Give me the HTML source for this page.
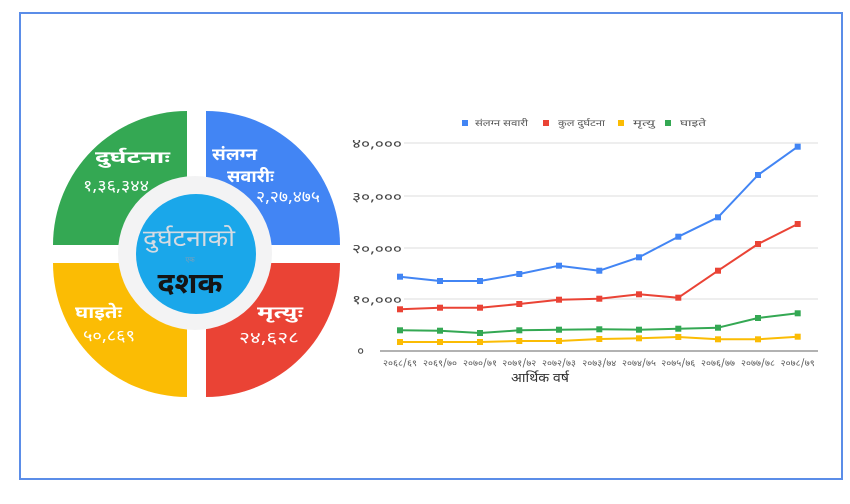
<!DOCTYPE html>
<html>
<head>
<meta charset="utf-8">
<style>
html,body{margin:0;padding:0;background:#fff;}
body{width:850px;height:504px;overflow:hidden;}
svg{display:block;}
text{font-family:"Noto Sans Devanagari","Lohit Devanagari","Mukta","Liberation Sans","DejaVu Sans",sans-serif;}
</style>
</head>
<body>
<svg width="850" height="504" viewBox="0 0 850 504" xmlns="http://www.w3.org/2000/svg">
  <rect x="0" y="0" width="850" height="504" fill="#ffffff"/>
  <!-- frame -->
  <rect x="20" y="13" width="822" height="466" fill="#ffffff" stroke="#5b8de8" stroke-width="2"/>

  <!-- quadrants -->
  <path d="M187,245 L53,245 A134,134 0 0 1 187,111 Z" fill="#34a853"/>
  <path d="M206,245 L206,111 A134,134 0 0 1 340,245 Z" fill="#4285f4"/>
  <path d="M206,263 L340,263 A134,134 0 0 1 206,397 Z" fill="#ea4335"/>
  <path d="M187,263 L187,397 A134,134 0 0 1 53,263 Z" fill="#fbbc04"/>

  <!-- quadrant texts -->
  <g fill="#ffffff">
    <text x="95" y="163" font-size="17" font-weight="bold" textLength="75" lengthAdjust="spacingAndGlyphs">दुर्घटनाः</text>
    <text x="83" y="191" font-size="16" textLength="66" lengthAdjust="spacingAndGlyphs">१,३६,३४४</text>
    <text x="212" y="160" font-size="17" font-weight="bold" textLength="45" lengthAdjust="spacingAndGlyphs">संलग्न</text>
    <text x="227" y="182" font-size="17" font-weight="bold" textLength="47" lengthAdjust="spacingAndGlyphs">सवारीः</text>
    <text x="256" y="202" font-size="16" textLength="64" lengthAdjust="spacingAndGlyphs">२,२७,४७५</text>
    <text x="75" y="318" font-size="17" font-weight="bold" textLength="47" lengthAdjust="spacingAndGlyphs">घाइतेः</text>
    <text x="83" y="341" font-size="16" textLength="52" lengthAdjust="spacingAndGlyphs">५०,८६९</text>
    <text x="257" y="318" font-size="17" font-weight="bold" textLength="46" lengthAdjust="spacingAndGlyphs">मृत्युः</text>
    <text x="239" y="343" font-size="16" textLength="60" lengthAdjust="spacingAndGlyphs">२४,६२८</text>
  </g>

  <!-- center -->
  <circle cx="195" cy="253" r="77" fill="#f3f3f4"/>
  <circle cx="196" cy="254" r="60" fill="#1aa7ea"/>
  <text x="189" y="246" font-size="23" fill="#d6dbe2" text-anchor="middle" textLength="92" lengthAdjust="spacingAndGlyphs">दुर्घटनाको</text>
  <text x="190" y="262" font-size="7" fill="#7f9fb8" text-anchor="middle">एक</text>
  <text x="190" y="293" font-size="29" font-weight="bold" fill="#151515" text-anchor="middle" textLength="65" lengthAdjust="spacingAndGlyphs">दशक</text>

  <!-- legend -->
  <g font-size="9" fill="#555">
    <rect x="462" y="120" width="6" height="6" fill="#4285f4"/>
    <text x="475" y="126" textLength="53" lengthAdjust="spacingAndGlyphs">संलग्न सवारी</text>
    <rect x="543" y="120" width="6" height="6" fill="#ea4335"/>
    <text x="558" y="126" textLength="47" lengthAdjust="spacingAndGlyphs">कुल दुर्घटना</text>
    <rect x="618" y="120" width="6" height="6" fill="#fbbc04"/>
    <text x="633" y="126" textLength="22" lengthAdjust="spacingAndGlyphs">मृत्यु</text>
    <rect x="665" y="120" width="6" height="6" fill="#34a853"/>
    <text x="680" y="126" textLength="26" lengthAdjust="spacingAndGlyphs">घाइते</text>
  </g>

  <!-- gridlines -->
  <g stroke="#dcdcdc" stroke-width="1">
    <line x1="404" y1="143" x2="818" y2="143"/>
    <line x1="404" y1="196" x2="818" y2="196"/>
    <line x1="404" y1="248" x2="818" y2="248"/>
    <line x1="404" y1="299" x2="818" y2="299"/>
  </g>
  <line x1="380" y1="351" x2="818" y2="351" stroke="#999" stroke-width="1.5"/>

  <!-- y labels -->
  <g font-size="13" fill="#444" text-anchor="end">
    <text x="402" y="148" textLength="50" lengthAdjust="spacingAndGlyphs">४०,०००</text>
    <text x="402" y="201" textLength="50" lengthAdjust="spacingAndGlyphs">३०,०००</text>
    <text x="402" y="253" textLength="50" lengthAdjust="spacingAndGlyphs">२०,०००</text>
    <text x="402" y="304" textLength="50" lengthAdjust="spacingAndGlyphs">१०,०००</text>
    <text x="364" y="355">०</text>
  </g>

  <!-- series -->
  <g fill="none" stroke-width="2" stroke-linejoin="round">
    <polyline stroke="#fbbc04" points="400,342 440,342 480,342 519.3,341 559,341 599.3,339 639,338.3 678.3,337 718,339.3 758,339.3 797.7,336.7"/>
    <polyline stroke="#34a853" points="400,330.3 440,330.7 480,333 519.3,330.3 559,329.7 599.3,329.3 639,329.7 678.3,328.7 718,327.7 758,318 797.7,313.3"/>
    <polyline stroke="#ea4335" points="400,309.3 440,307.7 480,307.7 519.3,304 559,299.7 599.3,298.7 639,294.3 678.3,297.7 718,270.7 758,244 797.7,224"/>
    <polyline stroke="#4285f4" points="400,276.7 440,281 480,281 519.3,274 559,265.7 599.3,270.7 639,257.3 678.3,236.7 718,217.3 758,175 797.7,146.7"/>
  </g>
  <g fill="#fbbc04">
    <rect x="397" y="339" width="6" height="6"/><rect x="437" y="339" width="6" height="6"/><rect x="477" y="339" width="6" height="6"/><rect x="516.3" y="338" width="6" height="6"/><rect x="556" y="338" width="6" height="6"/><rect x="596.3" y="336" width="6" height="6"/><rect x="636" y="335.3" width="6" height="6"/><rect x="675.3" y="334" width="6" height="6"/><rect x="715" y="336.3" width="6" height="6"/><rect x="755" y="336.3" width="6" height="6"/><rect x="794.7" y="333.7" width="6" height="6"/>
  </g>
  <g fill="#34a853">
    <rect x="397" y="327.3" width="6" height="6"/><rect x="437" y="327.7" width="6" height="6"/><rect x="477" y="330" width="6" height="6"/><rect x="516.3" y="327.3" width="6" height="6"/><rect x="556" y="326.7" width="6" height="6"/><rect x="596.3" y="326.3" width="6" height="6"/><rect x="636" y="326.7" width="6" height="6"/><rect x="675.3" y="325.7" width="6" height="6"/><rect x="715" y="324.7" width="6" height="6"/><rect x="755" y="315" width="6" height="6"/><rect x="794.7" y="310.3" width="6" height="6"/>
  </g>
  <g fill="#ea4335">
    <rect x="397" y="306.3" width="6" height="6"/><rect x="437" y="304.7" width="6" height="6"/><rect x="477" y="304.7" width="6" height="6"/><rect x="516.3" y="301" width="6" height="6"/><rect x="556" y="296.7" width="6" height="6"/><rect x="596.3" y="295.7" width="6" height="6"/><rect x="636" y="291.3" width="6" height="6"/><rect x="675.3" y="294.7" width="6" height="6"/><rect x="715" y="267.7" width="6" height="6"/><rect x="755" y="241" width="6" height="6"/><rect x="794.7" y="221" width="6" height="6"/>
  </g>
  <g fill="#4285f4">
    <rect x="397" y="273.7" width="6" height="6"/><rect x="437" y="278" width="6" height="6"/><rect x="477" y="278" width="6" height="6"/><rect x="516.3" y="271" width="6" height="6"/><rect x="556" y="262.7" width="6" height="6"/><rect x="596.3" y="267.7" width="6" height="6"/><rect x="636" y="254.3" width="6" height="6"/><rect x="675.3" y="233.7" width="6" height="6"/><rect x="715" y="214.3" width="6" height="6"/><rect x="755" y="172" width="6" height="6"/><rect x="794.7" y="143.7" width="6" height="6"/>
  </g>

  <!-- x labels -->
  <g font-size="9" fill="#5a5a5a" text-anchor="middle">
    <text x="400" y="366" textLength="34" lengthAdjust="spacingAndGlyphs">२०६८/६९</text>
    <text x="440" y="366" textLength="34" lengthAdjust="spacingAndGlyphs">२०६९/७०</text>
    <text x="480" y="366" textLength="34" lengthAdjust="spacingAndGlyphs">२०७०/७१</text>
    <text x="519.3" y="366" textLength="34" lengthAdjust="spacingAndGlyphs">२०७१/७२</text>
    <text x="559" y="366" textLength="34" lengthAdjust="spacingAndGlyphs">२०७२/७३</text>
    <text x="599.3" y="366" textLength="34" lengthAdjust="spacingAndGlyphs">२०७३/७४</text>
    <text x="639" y="366" textLength="34" lengthAdjust="spacingAndGlyphs">२०७४/७५</text>
    <text x="678.3" y="366" textLength="34" lengthAdjust="spacingAndGlyphs">२०७५/७६</text>
    <text x="718" y="366" textLength="34" lengthAdjust="spacingAndGlyphs">२०७६/७७</text>
    <text x="758" y="366" textLength="34" lengthAdjust="spacingAndGlyphs">२०७७/७८</text>
    <text x="797.7" y="366" textLength="34" lengthAdjust="spacingAndGlyphs">२०७८/७९</text>
  </g>
  <text x="540" y="382" font-size="13" fill="#333" text-anchor="middle" textLength="58" lengthAdjust="spacingAndGlyphs">आर्थिक वर्ष</text>
</svg>
</body>
</html>
